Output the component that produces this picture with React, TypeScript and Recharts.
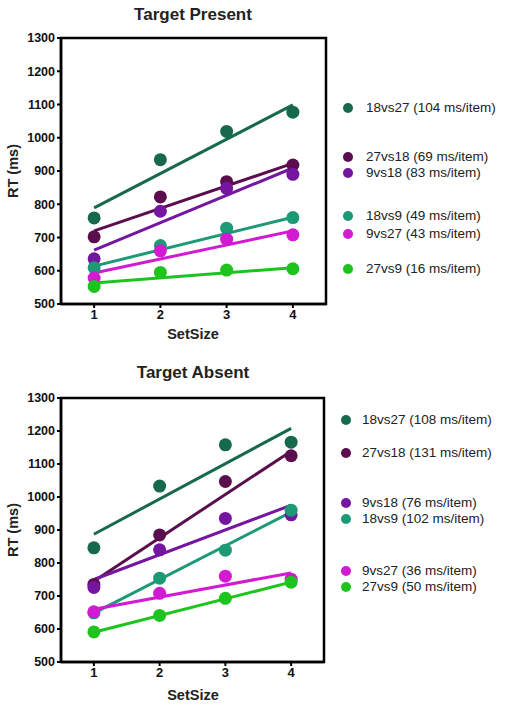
import { ComposedChart, Line, Scatter, XAxis, YAxis, ReferenceArea } from 'recharts'

const setSizes = [1, 2, 3, 4]
const conditions = ['18vs27', '27vs18', '9vs18', '18vs9', '9vs27', '27vs9']
const colors = ['#17694c', '#5a0e4e', '#7416a0', '#1c9a76', '#d21ad2', '#1ec41e']
const rtTicks = [500, 600, 700, 800, 900, 1000, 1100, 1200, 1300]

// Target Present: mean RT per set size, fitted line at set size 1 and 4, slope
const presentRT = [
  [759, 934, 1019, 1077],
  [702, 822, 868, 918],
  [636, 779, 848, 890],
  [609, 676, 728, 760],
  [578, 660, 695, 708],
  [553, 595, 602, 606],
]
const presentFit = [
  [789, 1099],
  [720, 923],
  [662, 909],
  [614, 761],
  [593, 720],
  [563, 609],
]
const presentSlopes = [104, 69, 83, 49, 43, 16]

// Target Absent
const absentRT = [
  [846, 1033, 1158, 1166],
  [735, 885, 1047, 1125],
  [726, 840, 935, 946],
  [649, 754, 839, 960],
  [652, 708, 760, 751],
  [591, 641, 693, 742],
]
const absentFit = [
  [887, 1208],
  [745, 1139],
  [750, 975],
  [648, 954],
  [660, 770],
  [590, 742],
]
const absentSlopes = [108, 131, 76, 102, 36, 50]

const FONT = '"Liberation Sans", Arial, sans-serif'

interface PanelProps {
  top: number
  height: number
  plotTop: number
  plotBottom: number
  plotRight: number
  rt: number[][]
  fit: number[][]
}

function Panel({ top, height, plotTop, plotBottom, plotRight, rt, fit }: PanelProps) {
  const W = 509
  return (
    <div style={{ position: 'absolute', left: 0, top }}>
      <ComposedChart
        width={W}
        height={height}
        margin={{ top: plotTop, left: 11, right: W - plotRight, bottom: height - plotBottom - 30 }}
      >
        <XAxis
          type="number"
          dataKey="x"
          domain={[0.5, 4.5]}
          ticks={setSizes}
          allowDataOverflow
          height={30}
          axisLine={{ stroke: '#000', strokeWidth: 2.5 }}
          tickLine={{ stroke: '#000', strokeWidth: 2 }}
          tickSize={4}
          tick={{ fontSize: 13, fontWeight: 'bold', fill: '#111', fontFamily: FONT }}
        />
        <YAxis
          type="number"
          dataKey="y"
          domain={[500, 1300]}
          ticks={rtTicks}
          allowDataOverflow
          width={50}
          axisLine={{ stroke: '#000', strokeWidth: 2.5 }}
          tickLine={{ stroke: '#000', strokeWidth: 2 }}
          tickSize={4}
          tick={{ fontSize: 12.5, fontWeight: 'bold', fill: '#111', fontFamily: FONT }}
        />
        <ReferenceArea x1={0.5} x2={4.5} y1={500} y2={1300} fill="none" stroke="#000" strokeWidth={2.5} fillOpacity={0} />
        {conditions.map((c, i) => (
          <Line
            key={'l' + c}
            data={[{ x: 1, y: fit[i][0] }, { x: 4, y: fit[i][1] }]}
            dataKey="y"
            type="linear"
            stroke={colors[i]}
            strokeWidth={3}
            dot={false}
            activeDot={false}
            isAnimationActive={false}
          />
        ))}
        {conditions.map((c, i) => (
          <Scatter
            key={'s' + c}
            data={setSizes.map((s, j) => ({ x: s, y: rt[i][j] }))}
            dataKey="y"
            fill={colors[i]}
            isAnimationActive={false}
            shape={(p: any) => <circle cx={p.cx} cy={p.cy} r={6.5} fill={colors[i]} />}
          />
        ))}
      </ComposedChart>
    </div>
  )
}

function LegendBlock({ rows, dotX, textX, slopes }: { rows: number[]; dotX: number; textX: number; slopes: number[] }) {
  return (
    <>
      {conditions.map((c, i) => (
        <div key={c}>
          <div
            style={{
              position: 'absolute', left: dotX - 5, top: rows[i] - 5,
              width: 10, height: 10, borderRadius: 5, background: colors[i],
            }}
          />
          <div
            style={{
              position: 'absolute', left: textX, top: rows[i] - 6, fontSize: 13.5,
              lineHeight: '12px', fontFamily: FONT, color: '#222', whiteSpace: 'nowrap',
            }}
          >
            {c} ({slopes[i]} ms/item)
          </div>
        </div>
      ))}
    </>
  )
}

function Text({ x, y, size, children, rotate }: { x: number; y: number; size: number; children: string; rotate?: boolean }) {
  return (
    <div
      style={{
        position: 'absolute', left: x, top: y, fontSize: size, fontWeight: 'bold',
        fontFamily: FONT, color: '#222', whiteSpace: 'nowrap', lineHeight: 1,
        transform: `translate(-50%, -50%)${rotate ? ' rotate(-90deg)' : ''}`,
      }}
    >
      {children}
    </div>
  )
}

export default function App() {
  return (
    <div style={{ position: 'absolute', left: 0, top: 0, width: 509, height: 706, background: '#fff' }}>
      <Panel top={0} height={340} plotTop={38} plotBottom={304} plotRight={326} rt={presentRT} fit={presentFit} />
      <Panel top={340} height={366} plotTop={58} plotBottom={322} plotRight={324} rt={absentRT} fit={absentFit} />
      <Text x={193} y={14} size={17}>Target Present</Text>
      <Text x={193} y={372} size={17}>Target Absent</Text>
      <Text x={13} y={171} size={14.5} rotate>RT (ms)</Text>
      <Text x={13} y={530} size={14.5} rotate>RT (ms)</Text>
      <Text x={193} y={334} size={14.5}>SetSize</Text>
      <Text x={193} y={695} size={14.5}>SetSize</Text>
      <LegendBlock rows={[108, 157, 173, 216, 234, 269]} dotX={348} textX={366} slopes={presentSlopes} />
      <LegendBlock rows={[420, 453, 503, 519, 571, 587]} dotX={346} textX={362} slopes={absentSlopes} />
    </div>
  )
}
